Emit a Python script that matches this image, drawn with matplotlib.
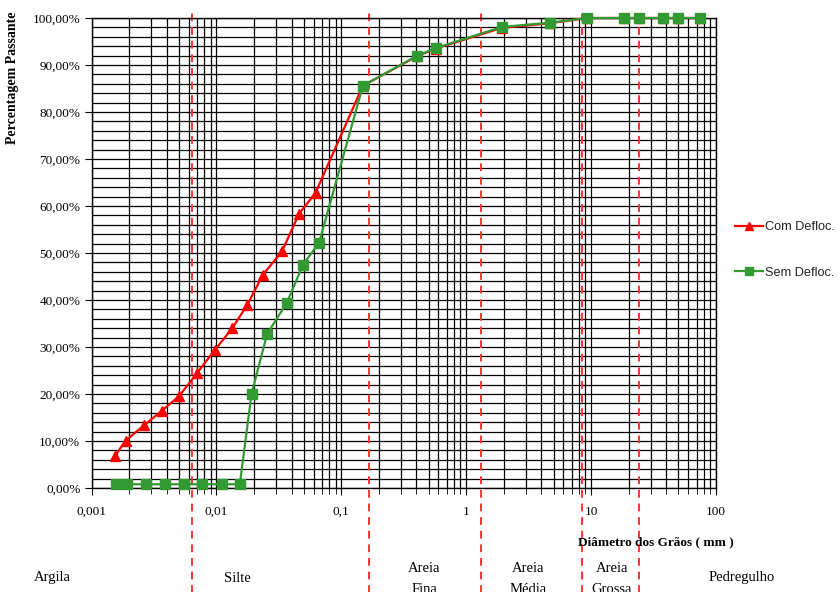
import numpy as np
import matplotlib
matplotlib.use("Agg")
import matplotlib.pyplot as plt
from matplotlib.ticker import FixedLocator, FuncFormatter, LogLocator, NullFormatter

# dados (diâmetro em mm, % passante)
d_com = [0.00154, 0.00188, 0.00263, 0.00364, 0.00501, 0.00698, 0.00967, 0.0134,
         0.0176, 0.0236, 0.0336, 0.0460, 0.0622, 0.149, 0.407, 0.570, 1.93,
         4.72, 9.25, 18.5, 24.4, 37.5, 49.5, 73.8]
p_com = [6.8, 10.1, 13.3, 16.4, 19.5, 24.4, 29.3, 34.0, 38.9, 45.4, 50.4, 58.4,
         62.8, 85.6, 91.9, 93.5, 97.9, 98.9, 100, 100, 100, 100, 100, 100]

d_sem = [0.00157, 0.00193, 0.00273, 0.00389, 0.0055, 0.0077, 0.0110, 0.0154,
         0.0191, 0.0255, 0.0366, 0.0494, 0.0664, 0.149, 0.407, 0.570, 1.93,
         4.72, 9.25, 18.5, 24.4, 37.5, 49.5, 73.8]
p_sem = [0.8, 0.8, 0.8, 0.8, 0.8, 0.8, 0.8, 0.8, 20.0, 32.8, 39.4, 47.5, 52.2,
         85.6, 92.0, 93.6, 98.1, 99.0, 100, 100, 100, 100, 100, 100]

# limites das frações (linhas tracejadas)
limites = [0.0064, 0.166, 1.32, 8.4, 24.2]
fracoes = ["Argila", "Silte", "Areia\nFina", "Areia\nMédia", "Areia\nGrossa", "Pedregulho"]
fracoes_px = [52, 237, 424, 528, 612, 742]

W, H = 840, 592
fig = plt.figure(figsize=(W / 100, H / 100), dpi=100)
ax = fig.add_axes([91.5 / W, 1 - 488 / H, (716 - 91.5) / W, (488 - 18) / H])

serif = "Liberation Serif"

ax.set_xscale("log")
ax.set_xlim(0.001, 100)
ax.set_ylim(0, 100)

# grelha
ax.xaxis.set_major_locator(LogLocator(base=10, numticks=10))
ax.xaxis.set_minor_locator(LogLocator(base=10, subs=np.arange(2, 10), numticks=10))
ax.xaxis.set_minor_formatter(NullFormatter())
ax.yaxis.set_major_locator(FixedLocator(np.arange(0, 101, 10)))
ax.yaxis.set_minor_locator(FixedLocator(np.arange(0, 101, 2)))
ax.grid(True, which="both", axis="both", color="black", lw=0.9)
ax.set_axisbelow(True)

ax.xaxis.set_major_formatter(FuncFormatter(lambda v, p: ("%g" % v).replace(".", ",")))
ax.yaxis.set_major_formatter(FuncFormatter(lambda v, p: ("%.2f%%" % v).replace(".", ",")))
ax.tick_params(axis="x", which="major", length=5, pad=8, labelsize=9.5)
ax.tick_params(axis="x", which="minor", length=4)
ax.tick_params(axis="y", which="major", length=5, pad=3, labelsize=9.5)
ax.tick_params(axis="y", which="minor", length=0)
for lab in ax.get_xticklabels() + ax.get_yticklabels():
    lab.set_fontfamily(serif)
for s in ax.spines.values():
    s.set_color("black")
    s.set_linewidth(1)

# linhas tracejadas das frações
for x in limites:
    ax.plot([x, x], [-22.5, 101.2], color="#ff3333", ls=(0, (4, 3)), lw=1.4,
            clip_on=False, zorder=2)

ax.plot(d_com, p_com, color="#ff0000", lw=1.6, marker="^", ms=7,
        label="Com Defloc.", clip_on=False, zorder=3)
ax.plot(d_sem, p_sem, color="#339933", lw=1.6, marker="s", ms=6.5,
        label="Sem Defloc.", clip_on=False, zorder=4)

fig.text(13 / W, 1 - 78 / H, "Percentagem Passante", rotation=90, ha="center",
         va="center", fontsize=10, fontweight="bold", family=serif)
fig.text(656 / W, 1 - 542 / H, "Diâmetro dos Grãos ( mm )", ha="center",
         va="center", fontsize=9.5, fontweight="bold", family=serif)

for nome, px in zip(fracoes, fracoes_px):
    if "\n" in nome:
        fig.text(px / W, 1 - 562 / H, nome, ha="center", va="top",
                 fontsize=10.5, family=serif, linespacing=1.8)
    else:
        fig.text(px / W, 1 - 578 / H, nome, ha="center", va="center",
                 fontsize=10.5, family=serif)

fig.legend(loc="center left", bbox_to_anchor=(723 / W, 1 - 250 / H), frameon=False,
           prop={"family": "Liberation Sans", "size": 9.2}, handlelength=2.2,
           handletextpad=0.2, labelspacing=2.6, markerscale=0.8, labelcolor="#222222")

fig.savefig("out.png", dpi=100)
